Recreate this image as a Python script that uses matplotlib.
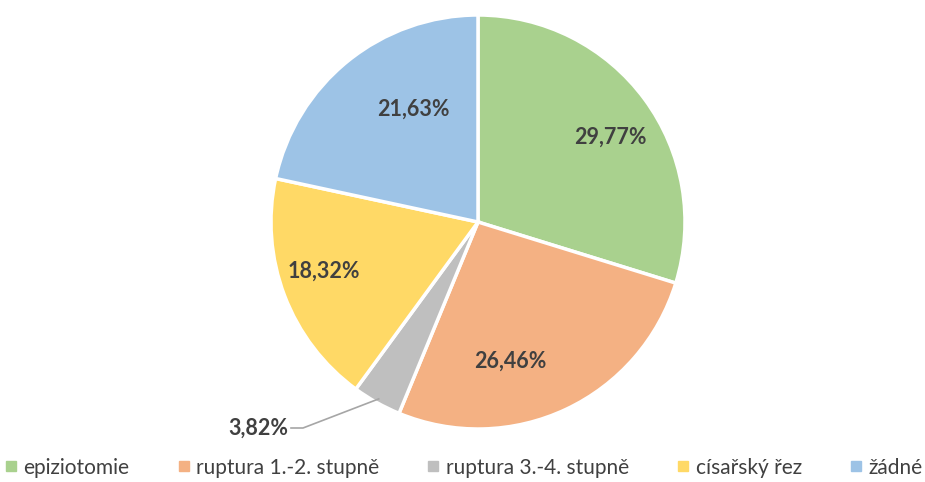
import numpy as np
import matplotlib
matplotlib.use("Agg")
from matplotlib import pyplot as plt
from matplotlib.lines import Line2D

plt.rcParams['font.family'] = ['Lato', 'DejaVu Sans']

kategorie = ["epiziotomie", "ruptura 1.-2. stupně", "ruptura 3.-4. stupně",
             "císařský řez", "žádné"]
procenta = [29.77, 26.46, 3.82, 18.32, 21.63]
popisky = ["29,77%", "26,46%", "3,82%", "18,32%", "21,63%"]
barvy = ["#A9D18E", "#F4B183", "#BFBFBF", "#FFD966", "#9DC3E6"]

# umisteni popisku (podil polomeru, posun uhlu ve stupnich)
vzdalenost = [0.76, 0.69, 0.0, 0.78, 0.63]
posun_uhlu = [-4, -12, 0, -3, -9]

fig = plt.figure(figsize=(9.25, 4.82), dpi=100)
ax = fig.add_axes([0, 0, 1, 1])

stred = (478, 260)
r = 207
wedges, _ = ax.pie(procenta, colors=barvy, startangle=90, counterclock=False,
                   center=stred, radius=r, frame=True,
                   wedgeprops=dict(edgecolor='white', linewidth=2.5))
ax.set_xlim(0, 925)
ax.set_ylim(0, 482)
ax.set_aspect('equal')
ax.axis('off')

for i, w in enumerate(wedges):
    uhel = np.deg2rad((w.theta1 + w.theta2) / 2 + posun_uhlu[i])
    if vzdalenost[i] > 0:
        x = stred[0] + vzdalenost[i] * r * np.cos(uhel)
        y = stred[1] + vzdalenost[i] * r * np.sin(uhel)
        ax.text(x, y, popisky[i], ha='center', va='center', fontsize=15.5,
                fontweight='bold', color='#404040')
    else:
        # maly vysek - popisek mimo s vodici carou
        ex = stred[0] + 0.98 * r * np.cos(uhel)
        ey = stred[1] + 0.98 * r * np.sin(uhel)
        ax.plot([ex, 303, 291], [ey, 54, 54], color='#A6A6A6', lw=1.2)
        ax.text(288, 54, popisky[i], ha='right', va='center', fontsize=15.5,
                fontweight='bold', color='#404040')

handles = [Line2D([], [], marker='s', linestyle='none', markersize=6.5,
                  markerfacecolor=c, markeredgecolor=c) for c in barvy]
fig.legend(handles, kategorie, loc='lower center', ncol=5, frameon=False,
           fontsize=15, bbox_to_anchor=(0.5, -0.03), handletextpad=0.2,
           handlelength=0.8, columnspacing=2.2, labelcolor='#404040')

fig.savefig("out.png", dpi=100)
